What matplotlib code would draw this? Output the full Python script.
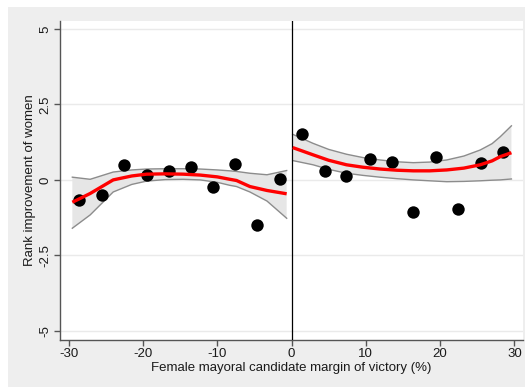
import matplotlib
matplotlib.use("Agg")
import matplotlib.pyplot as plt
from matplotlib.patches import Rectangle

# Binned scatter points
left_x = [-28.6, -25.5, -22.5, -19.5, -16.5, -13.5, -10.6, -7.6, -4.6, -1.5]
left_y = [-0.66, -0.50, 0.50, 0.17, 0.31, 0.42, -0.25, 0.53, -1.49, 0.02]
right_x = [1.45, 4.47, 7.4, 10.5, 13.5, 16.4, 19.5, 22.4, 25.5, 28.5]
right_y = [1.53, 0.31, 0.13, 0.70, 0.60, -1.05, 0.77, -0.97, 0.57, 0.92]

# Fitted lines and confidence bands
fitL_x = [-29.5, -27.1, -24.0, -21.5, -19.5, -17.0, -14.6, -12.3, -10.0, -8.3, -7.4, -5.6, -3.3, -0.65]
fitL_y = [-0.74, -0.45, 0.00, 0.13, 0.19, 0.20, 0.19, 0.16, 0.10, 0.02, -0.02, -0.22, -0.35, -0.46]
ciL_hi = [0.09, 0.02, 0.26, 0.33, 0.36, 0.37, 0.37, 0.36, 0.33, 0.30, 0.28, 0.22, 0.17, 0.31]
ciL_lo = [-1.60, -1.16, -0.40, -0.15, -0.04, 0.01, 0.02, 0.00, -0.08, -0.18, -0.22, -0.40, -0.70, -1.27]

fitR_x = [0.16, 2.9, 5.0, 7.4, 9.6, 11.9, 14.2, 16.4, 18.6, 20.9, 23.2, 25.4, 27.0, 28.1, 29.6]
fitR_y = [1.07, 0.83, 0.65, 0.50, 0.42, 0.36, 0.32, 0.30, 0.30, 0.33, 0.39, 0.50, 0.63, 0.77, 0.90]
ciR_hi = [1.51, 1.21, 1.01, 0.85, 0.74, 0.66, 0.60, 0.57, 0.59, 0.66, 0.79, 0.99, 1.20, 1.43, 1.79]
ciR_lo = [0.64, 0.50, 0.35, 0.22, 0.15, 0.09, 0.04, 0.00, -0.03, -0.06, -0.05, -0.03, -0.01, 0.00, 0.03]

xticks = [-30, -20, -10, 0, 10, 20, 30]
yticks = [-5, -2.5, 0, 2.5, 5]
ytick_labels = ["-5", "-2.5", "0", "2.5", "5"]

plt.rcParams['font.family'] = ['Liberation Sans', 'DejaVu Sans']

W, H = 525, 388
fig = plt.figure(figsize=(W / 100, H / 100), dpi=100, facecolor='white')
bg = fig.add_axes([0, 0, 1, 1], zorder=0)
bg.set_xlim(0, W)
bg.set_ylim(H, 0)
bg.axis('off')
bg.add_patch(Rectangle((8, 7), W - 8, 380, facecolor='#eeeeee', edgecolor='none'))

ax = fig.add_axes([60 / W, (H - 340) / H, (523 - 60) / W, (340 - 21) / H], zorder=1)
ax.set_facecolor('white')

for xs, lo, hi in [(fitL_x, ciL_lo, ciL_hi), (fitR_x, ciR_lo, ciR_hi)]:
    ax.fill_between(xs, lo, hi, facecolor='#e6e6e6', edgecolor='none', zorder=2)
    ax.plot(xs, lo, color='#8c8c8c', lw=1.0, zorder=3)
    ax.plot(xs, hi, color='#8c8c8c', lw=1.0, zorder=3)

ax.scatter(left_x, left_y, s=80, color='black', zorder=4, linewidths=0)
ax.scatter(right_x, right_y, s=80, color='black', zorder=4, linewidths=0)
ax.plot(fitL_x, fitL_y, color='#ff0000', lw=2.4, zorder=5, solid_capstyle='butt')
ax.plot(fitR_x, fitR_y, color='#ff0000', lw=2.4, zorder=5, solid_capstyle='butt')

ax.axvline(0, color='black', lw=0.9, zorder=3)

ax.set_xlim(-31.16, 31.16)
ax.set_ylim(-5.30, 5.26)
ax.set_xticks(xticks)
ax.set_xticklabels([str(t) for t in xticks])
ax.set_yticks(yticks)
ax.set_yticklabels(ytick_labels, rotation=90, va='center')
ax.yaxis.grid(True, color='#eaeaea', lw=1.0, zorder=1)
ax.set_axisbelow(True)

for s in ['top', 'right']:
    ax.spines[s].set_visible(False)
for s in ['left', 'bottom']:
    ax.spines[s].set_color('#555555')
    ax.spines[s].set_linewidth(1.0)
ax.tick_params(axis='both', direction='out', length=4, width=1.0, color='#555555',
               labelsize=9.5, labelcolor='#1a1a1a', pad=2)

ax.set_xlabel('Female mayoral candidate margin of victory (%)', fontsize=9.5,
              color='#1a1a1a', labelpad=1)
ax.set_ylabel('Rank improvement of women', fontsize=9.5, color='#1a1a1a', labelpad=3)

fig.savefig('out.png', dpi=100, facecolor=fig.get_facecolor())
